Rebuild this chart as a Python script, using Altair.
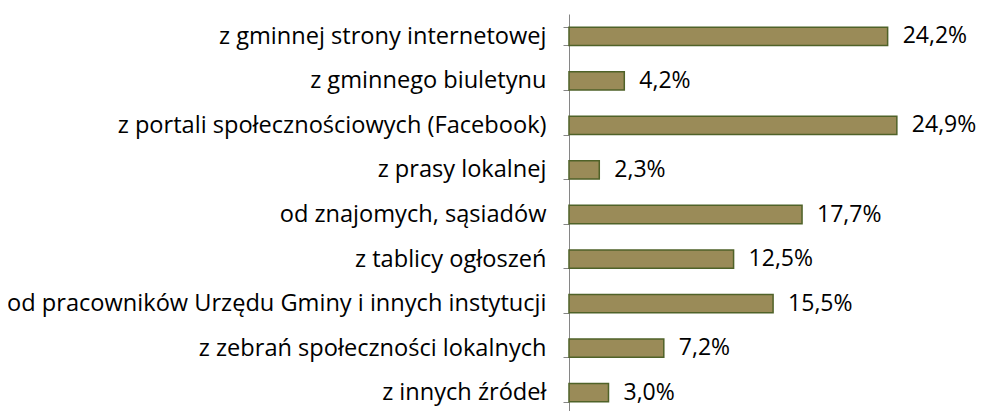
import altair as alt
import pandas as pd

categories = [
    "z gminnej strony internetowej",
    "z gminnego biuletynu",
    "z portali społecznościowych (Facebook)",
    "z prasy lokalnej",
    "od znajomych, sąsiadów",
    "z tablicy ogłoszeń",
    "od pracowników Urzędu Gminy i innych instytucji",
    "z zebrań społeczności lokalnych",
    "z innych źródeł",
]
values = [24.2, 4.2, 24.9, 2.3, 17.7, 12.5, 15.5, 7.2, 3.0]
labels = [f"{v:.1f}".replace(".", ",") + "%" for v in values]

df = pd.DataFrame({"cat": categories, "val": values, "lab": labels})

y = alt.Y(
    "cat:N",
    sort=categories,
    scale=alt.Scale(paddingInner=0.59, paddingOuter=0.295),
    axis=alt.Axis(
        title=None,
        labelFont="Open Sans",
        labelFontSize=23.6,
        labelColor="#000000",
        labelPadding=17,
        labelLimit=0,
        domainColor="#868686",
        domainWidth=1,
        tickColor="#868686",
        tickSize=6,
        tickBand="extent",
    ),
)
x = alt.X(
    "val:Q",
    scale=alt.Scale(domain=[0, 30], nice=False),
    axis=None,
)

bars = alt.Chart(df).mark_bar(
    color="#9a8b58", stroke="#4f6228", strokeWidth=1.5
).encode(x=x, y=y)

text = alt.Chart(df).mark_text(
    align="left", baseline="middle", dx=15, font="Open Sans", fontSize=23, color="#000000"
).encode(x=x, y=y, text="lab:N")

chart = (
    alt.layer(bars, text)
    .properties(
        width=395,
        height=401,
        autosize=alt.AutoSizeParams(type="none"),
        padding={"left": 561, "top": 6, "right": 12, "bottom": 0},
    )
    .configure_view(stroke=None)
)

chart.save("out.html", embed_options={"renderer": "svg", "actions": False})
